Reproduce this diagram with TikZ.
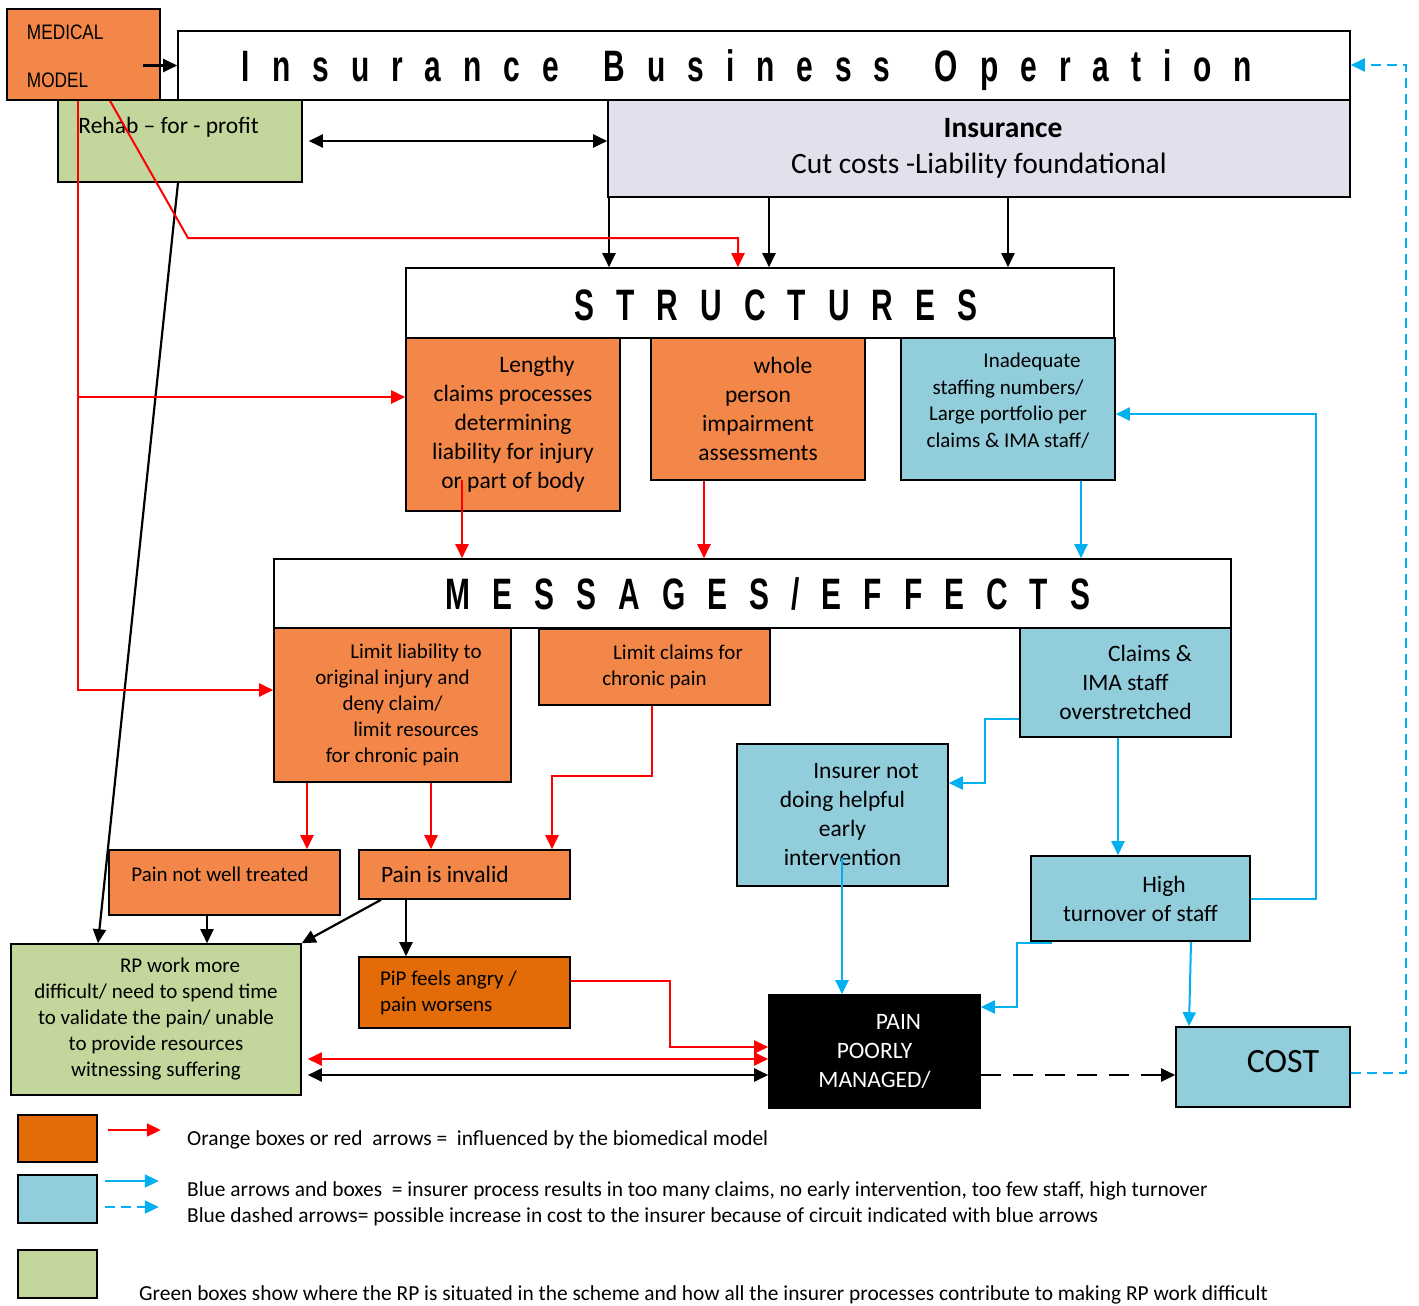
\documentclass[tikz,border=0pt]{standalone}
\usepackage{fontspec}
\setmainfont{Carlito}
\newfontfamily\arialfont[FakeStretch=0.82]{Liberation Sans}
\newfontfamily\headfont[FakeStretch=0.68,LetterSpace=50]{Liberation Sans}
\usetikzlibrary{arrows.meta}

\definecolor{boxorange}{HTML}{F38749}
\definecolor{boxdark}{HTML}{E36C09}
\definecolor{boxgreen}{HTML}{C3D69B}
\definecolor{boxblue}{HTML}{92CDDC}
\definecolor{boxlilac}{HTML}{E4DFEC}
\definecolor{arrblue}{HTML}{00B0F0}

\newcommand\bigtxt{\fontsize{23.5}{29}\selectfont}
\newcommand\smalltxt{\fontsize{21}{26}\selectfont}
\newcommand\legtxt{\fontsize{21.4}{25}\selectfont}
\newcommand\arialtxt{\arialfont\fontsize{21}{25}\selectfont}
\newcommand\headtxt{\headfont\bfseries\fontsize{44}{50}\selectfont}
\newcommand\nudge[2]{\raisebox{#1}[\height][\depth]{#2}}

\begin{document}
\begin{tikzpicture}[x=1pt,y=-1pt,
  box/.style={draw, line width=1.6pt, inner sep=0pt, align=center},
  tip/.style={-{Triangle[length=14pt,width=13pt]}},
  blkarr/.style={line width=2.2pt, tip},
  blkdbl/.style={line width=2.2pt, {Triangle[length=14pt,width=13pt]}-{Triangle[length=14pt,width=13pt]}},
  redarr/.style={red, line width=2pt, tip},
  reddbl/.style={red, line width=2pt, {Triangle[length=14pt,width=13pt]}-{Triangle[length=14pt,width=13pt]}},
  bluarr/.style={arrblue, line width=2pt, tip},
  bludash/.style={arrblue, line width=2pt, dash pattern=on 10pt off 6pt, tip},
  blkdash/.style={line width=2.2pt, dash pattern=on 20pt off 12pt, tip}]

  \useasboundingbox (0,0) rectangle (1419,1306);

  % top row
  \node[box, fill=white, minimum width=1172pt, minimum height=69pt, font=\headtxt]
    (ibo) at (764,65.5) {\nudge{-5pt}{Insurance\hspace{14pt} Business\hspace{14pt} Operation}\hspace*{34pt}};
  \node[box, fill=boxorange, minimum width=153pt, minimum height=91pt,
    font=\arialtxt, align=flush left, text width=113pt]
    (med) at (83.5,54.5) {\nudge{-2pt}{MEDICAL}\\[23pt]\nudge{-2pt}{MODEL}};
  \node[box, fill=boxgreen, minimum width=244pt, minimum height=82pt,
    label={[anchor=west, font=\bigtxt, inner sep=0pt, xshift=21pt, yshift=14pt]west:Rehab – for - profit}]
    (rehab) at (180,141) {};
  \node[box, fill=boxlilac, minimum width=742pt, minimum height=97pt, font=\fontsize{29.5}{36}\selectfont]
    (ins) at (979,148.5) {\hspace*{48pt}\textbf{Insurance}\\Cut costs -Liability foundational};

  % structures
  \node[box, fill=white, minimum width=708pt, minimum height=70pt, font=\headtxt]
    (struct) at (760,303) {\hspace*{32pt}\nudge{-2pt}{STRUCTURES}};
  \node[box, fill=boxorange, minimum width=214pt, minimum height=173pt, font=\bigtxt]
    (lengthy) at (513,424.5) {\hspace*{48pt}Lengthy\\claims processes\\determining\\liability for injury\\or part of body};
  \node[box, fill=boxorange, minimum width=214pt, minimum height=142pt, font=\bigtxt]
    (whole) at (758,409) {\hspace*{50pt}whole\\person\\impairment\\assessments};
  \node[box, fill=boxblue, minimum width=214pt, minimum height=142pt, font=\fontsize{21}{26.5}\selectfont]
    (inadeq) at (1008,409) {\hspace*{48pt}Inadequate\\staffing numbers/\\Large portfolio per\\claims \& IMA staff/\\[-9pt]};

  % messages / effects
  \node[box, fill=white, minimum width=957pt, minimum height=69pt, font=\headtxt]
    (msg) at (752.5,593.5) {\hspace*{31pt}MESSAGES/EFFECTS};
  \node[box, fill=boxorange, minimum width=237pt, minimum height=154pt, font=\smalltxt]
    (limliab) at (392.5,705) {\hspace*{47pt}Limit liability to\\original injury and\\deny claim/\\\hspace*{47pt}limit resources\\for chronic pain};
  \node[box, fill=boxorange, minimum width=231pt, minimum height=76pt, font=\smalltxt]
    (limclaims) at (654.5,667) {\hspace*{47pt}Limit claims for\\chronic pain};
  \node[box, fill=boxblue, minimum width=211pt, minimum height=109pt, font=\bigtxt]
    (claims) at (1125.5,682.5) {\hspace*{49pt}Claims \&\\IMA staff\\overstretched};
  \node[box, fill=boxblue, minimum width=211pt, minimum height=142pt, font=\bigtxt]
    (insurer) at (842.5,815) {\hspace*{47pt}Insurer not\\doing helpful\\early\\intervention};
  \node[box, fill=boxblue, minimum width=219pt, minimum height=85pt, font=\bigtxt]
    (turnover) at (1140.5,898.5) {\hspace*{47pt}High\\turnover of staff};

  % lower row
  \node[box, fill=boxorange, minimum width=231pt, minimum height=65pt,
    label={[font=\smalltxt, xshift=-4.5pt, yshift=8.5pt]center:Pain not well treated}]
    (painnot) at (224.5,882.5) {};
  \node[box, fill=boxorange, minimum width=211pt, minimum height=49pt, font=\bigtxt,
    align=flush left, text width=167pt]
    (invalid) at (464.5,874.5) {Pain is invalid};
  \node[box, fill=boxgreen, minimum width=290pt, minimum height=151pt, font=\smalltxt]
    (rpwork) at (156,1019.5) {\hspace*{48pt}RP work more\\difficult/ need to spend time\\to validate the pain/ unable\\to provide resources\\witnessing suffering};
  \node[box, fill=boxdark, minimum width=211pt, minimum height=71pt, font=\smalltxt,
    align=flush left, text width=169pt]
    (pip) at (464.5,992.5) {PiP feels angry /\\pain worsens};
  \node[box, fill=black, text=white, minimum width=211pt, minimum height=113pt, font=\bigtxt]
    (pain) at (874.5,1051.5) {\hspace*{48pt}PAIN\\POORLY\\MANAGED/};
  \node[box, fill=boxblue, minimum width=174pt, minimum height=80pt, font=\fontsize{34}{40}\selectfont]
    (cost) at (1263,1067) {\hspace*{40pt}\nudge{5pt}{COST}};

  % legend
  \node[box, fill=boxdark, minimum width=79pt, minimum height=47pt] (legor) at (57.5,1138.5) {};
  \node[box, fill=boxblue, minimum width=79pt, minimum height=48pt] (legbl) at (57.5,1199) {};
  \node[box, fill=boxgreen, minimum width=79pt, minimum height=48pt] (leggr) at (57.5,1274) {};
  \node[anchor=west, font=\legtxt, inner sep=0pt] (legortxt) at (187,1140)
    {Orange boxes or red\ \ arrows =\ \ influenced by the biomedical model};
  \node[anchor=west, font=\legtxt, inner sep=0pt] (legbltxt) at (187,1191)
    {Blue arrows and boxes\ \ = insurer process results in too many claims, no early intervention, too few staff, high turnover};
  \node[anchor=west, font=\legtxt, inner sep=0pt] (legdashtxt) at (187,1217)
    {Blue dashed arrows= possible increase in cost to the insurer because of circuit indicated with blue arrows};
  \node[anchor=west, font=\legtxt, inner sep=0pt] (leggrtxt) at (139,1295)
    {Green boxes show where the RP is situated in the scheme and how all the insurer processes contribute to making RP work difficult};

  % black connectors
  \draw[blkarr] (ibo.west -| 143,0) -- (ibo.west);
  \draw[blkdbl] ([xshift=6pt]rehab.east) -- (rehab.east -| ins.west);
  \foreach \x in {609,769,1008}
    \draw[blkarr] (ins.south -| \x,0) -- (struct.north -| \x,0);
  \draw[blkarr] (rehab.south -| 178,0) -- (rpwork.north -| 98,0);
  \draw[blkarr] (painnot.south -| 207,0) -- (rpwork.north -| 207,0);
  \draw[blkarr] (invalid.south -| 381,0) -- (rpwork.north east);
  \draw[blkarr] (invalid.south -| 406,904) -- (pip.north -| 406,0);
  \draw[blkdbl, shorten <=6pt] (rpwork.east |- 0,1075) -- (pain.west |- 0,1075);
  \draw[blkdash] (pain.east |- 0,1075) -- (cost.west |- 0,1075);

  % red connectors
  \draw[redarr] (med.south -| 110,0) -- (188,238) -- (738,238) -- (struct.north -| 738,0);
  \draw[redarr] (med.south -| 78,0) -- (78,690) -- (limliab.west |- 0,690);
  \draw[redarr] (78,397) -- (lengthy.west |- 0,397);
  \draw[redarr] (462,480) -- (msg.north -| 462,0);
  \draw[redarr] (whole.south -| 704,0) -- (msg.north -| 704,0);
  \draw[redarr] (limliab.south -| 307,0) -- (painnot.north -| 307,0);
  \draw[redarr] (limliab.south -| 431,0) -- (invalid.north -| 431,0);
  \draw[redarr] (limclaims.south -| 652,0) |- (552,776) -- (invalid.north -| 552,0);
  \draw[redarr] (pip.east |- 0,981) -| (670,1047) -- (pain.west |- 0,1047);
  \draw[reddbl, shorten <=6pt] (rpwork.east |- 0,1059) -- (pain.west |- 0,1059);

  % blue connectors
  \draw[bluarr] (inadeq.south -| 1081,0) -- (msg.north -| 1081,0);
  \draw[bluarr] (claims.west |- 0,719) -| (985,783) -- (insurer.east |- 0,783);
  \draw[bluarr] (claims.south -| 1118,0) -- (turnover.north -| 1118,0);
  \draw[bluarr] (turnover.east |- 0,899) -| (1316,414) -- (inadeq.east |- 0,414);
  \draw[bluarr] (842,858) -- (pain.north -| 842,0);
  \draw[bluarr] (1052,943) -| (1017,1007) -- (pain.east |- 0,1007);
  \draw[bluarr] (turnover.south -| 1191,0) -- (cost.north -| 1189,0);
  \draw[bludash] (cost.east |- 0,1073) -| (1406,65) -- (ibo.east |- 0,65);

  % legend arrows
  \draw[redarr] ([shift={(10,-8.5)}]legor.east) -- ++(53,0);
  \draw[bluarr] ([shift={(7,-18)}]legbl.east) -- ++(54,0);
  \draw[bludash] ([shift={(7,8)}]legbl.east) -- ++(54,0);
\end{tikzpicture}
\end{document}
